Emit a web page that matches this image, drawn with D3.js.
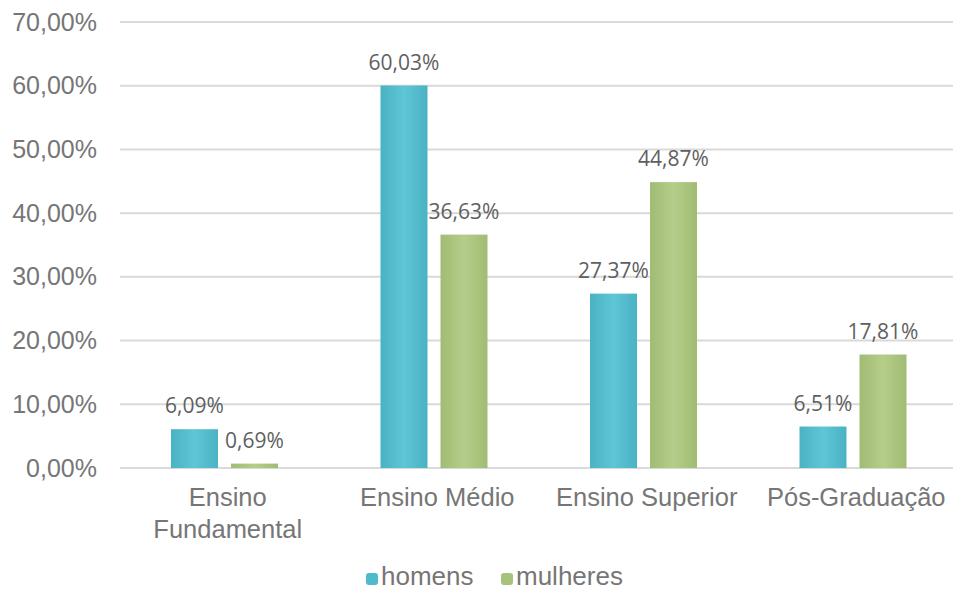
<!DOCTYPE html>
<html>
<head>
<meta charset="utf-8">
<script src="https://cdn.jsdelivr.net/npm/d3@7"></script>
<style>
  body { margin: 0; background: #fff; }
  svg { display: block; }
</style>
</head>
<body>
<svg id="chart" width="953" height="591"></svg>
<script>
// data
const categories = ["Ensino Fundamental", "Ensino Médio", "Ensino Superior", "Pós-Graduação"];
const categoryLines = [["Ensino", "Fundamental"], ["Ensino Médio"], ["Ensino Superior"], ["Pós-Graduação"]];
const series = ["homens", "mulheres"];
const homens = [6.09, 60.03, 27.37, 6.51];
const mulheres = [0.69, 36.63, 44.87, 17.81];
const yTicks = [0, 10, 20, 30, 40, 50, 60, 70];

const svg = d3.select("#chart");
const width = +svg.attr("width");

const x = d3.scaleBand().domain(categories).range([120, 958]);
const inner = d3.scaleBand().domain(series).range([51, 158]).paddingInner(0.217);
const y = d3.scaleLinear().domain([0, 70]).range([468, 22]);

const fmt = v => v.toFixed(2).replace(".", ",") + "%";

// gradients, a bit lighter in the middle of each bar
const defs = svg.append("defs");
function grad(id, edge, mid) {
    const g = defs.append("linearGradient").attr("id", id)
        .attr("x1", "0%").attr("x2", "100%").attr("y1", "0%").attr("y2", "0%");
    g.append("stop").attr("offset", "0%").attr("stop-color", edge);
    g.append("stop").attr("offset", "50%").attr("stop-color", mid);
    g.append("stop").attr("offset", "100%").attr("stop-color", edge);
}
grad("g-homens", "#49b2c3", "#5fc6d6");
grad("g-mulheres", "#a0bc73", "#b5cd8a");
const fills = { homens: "url(#g-homens)", mulheres: "url(#g-mulheres)" };
const swatch = { homens: "#4fbacb", mulheres: "#a6c27b" };

// gridlines
svg.append("g")
    .selectAll("line")
    .data(yTicks)
    .enter().append("line")
    .attr("x1", 120).attr("x2", width)
    .attr("y1", d => y(d)).attr("y2", d => y(d))
    .style("stroke", "#d9d9d9")
    .style("stroke-width", "2px");

// y axis labels
const yAxis = svg.append("g")
    .attr("transform", "translate(97,0)")
    .call(d3.axisLeft(y).tickValues(yTicks).tickSize(0).tickPadding(0)
        .tickFormat(d => d.toFixed(2).replace(".", ",") + "%"));
yAxis.select(".domain").remove();
yAxis.selectAll("text")
    .style("font-family", "'Liberation Sans', Arial, sans-serif")
    .style("font-size", "25px")
    .style("fill", "#767676");

// bars
const rows = categories.map((c, i) => ({ cat: c, homens: homens[i], mulheres: mulheres[i] }));
const groups = svg.append("g").selectAll("g")
    .data(rows)
    .enter().append("g")
    .attr("transform", d => "translate(" + x(d.cat) + ",0)");

groups.selectAll("rect")
    .data(d => series.map(s => ({ key: s, value: d[s] })))
    .enter().append("rect")
    .attr("x", d => inner(d.key))
    .attr("width", inner.bandwidth())
    .attr("y", d => y(d.value))
    .attr("height", d => y(0) - y(d.value))
    .style("fill", d => fills[d.key]);

groups.selectAll("text.val")
    .data(d => series.map(s => ({ key: s, value: d[s] })))
    .enter().append("text")
    .attr("class", "val")
    .attr("x", d => inner(d.key) + inner.bandwidth() / 2)
    .attr("y", d => y(d.value) - 16)
    .attr("text-anchor", "middle")
    .style("font-family", "'Open Sans', sans-serif")
    .style("font-size", "21px")
    .style("fill", "#5f5f5f")
    .text(d => fmt(d.value));

// category labels
const xAxis = svg.append("g");
categories.forEach((c, i) => {
    const cx = x(c) + x.bandwidth() / 2 + 3;
    const t = xAxis.append("text")
        .attr("x", cx)
        .attr("y", 506)
        .attr("text-anchor", "middle")
        .style("font-family", "'Liberation Sans', Arial, sans-serif")
        .style("font-size", "25.5px")
        .style("fill", "#767676");
    categoryLines[i].forEach((line, j) => {
        t.append("tspan").attr("x", cx).attr("dy", j === 0 ? 0 : 32).text(line);
    });
});

// legend
const legendX = { homens: 366, mulheres: 501 };
const legend = svg.append("g").selectAll("g")
    .data(series)
    .enter().append("g")
    .attr("transform", d => "translate(" + legendX[d] + ",573)");
legend.append("rect")
    .attr("width", 12).attr("height", 12).attr("rx", 3)
    .style("fill", d => swatch[d]);
legend.append("text")
    .attr("x", 15).attr("y", 12)
    .style("font-family", "'Liberation Sans', Arial, sans-serif")
    .style("font-size", "26px")
    .style("fill", "#767676")
    .text(d => d);
</script>
</body>
</html>
